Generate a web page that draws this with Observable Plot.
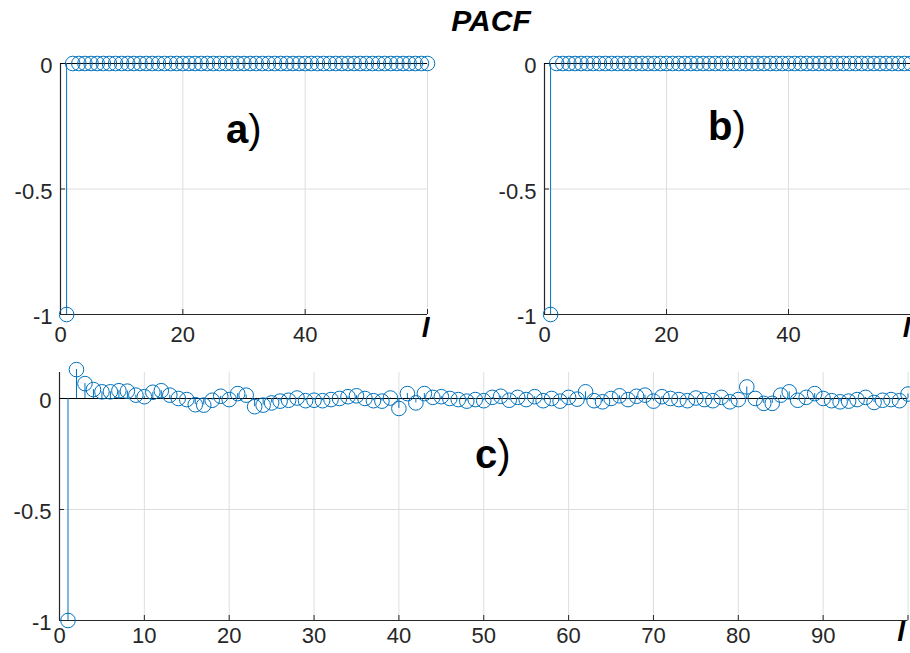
<!DOCTYPE html>
<html>
<head>
<meta charset="utf-8">
<script src="https://cdn.jsdelivr.net/npm/d3@7"></script>
<script src="https://cdn.jsdelivr.net/npm/@observablehq/plot@0.6"></script>
<style>
  html, body { margin: 0; padding: 0; background: #fff; overflow: hidden; }
  #root { position: relative; width: 910px; height: 653px; overflow: hidden; font-family: "Liberation Sans", Arial, sans-serif; }
  #title { position: absolute; left: 391px; width: 200px; top: 6px; text-align: center; font-size: 30px; line-height: 1; font-weight: bold; font-style: italic; color: #000; }
  .panel { position: absolute; }
</style>
</head>
<body>
<div id="root">
  <div id="title">PACF</div>
  <div class="panel" id="pa" style="left:0px; top:40px;"></div>
  <div class="panel" id="pb" style="left:484px; top:40px;"></div>
  <div class="panel" id="pc" style="left:0px; top:355px;"></div>
</div>
<script>
// ---------- data ----------
const lagsAB = d3.range(1, 61);
const pacfA = [-1, 0, 0, 0, 0, 0, 0, 0, 0, 0,
  0, 0, 0, 0, 0, 0, 0, 0, 0, 0,
  0, 0, 0, 0, 0, 0, 0, 0, 0, 0,
  0, 0, 0, 0, 0, 0, 0, 0, 0, 0,
  0, 0, 0, 0, 0, 0, 0, 0, 0, 0,
  0, 0, 0, 0, 0, 0, 0, 0, 0, 0];
const pacfB = [-1, 0, 0, 0, 0, 0, 0, 0, 0, 0,
  0, 0, 0, 0, 0, 0, 0, 0, 0, 0,
  0, 0, 0, 0, 0, 0, 0, 0, 0, 0,
  0, 0, 0, 0, 0, 0, 0, 0, 0, 0,
  0, 0, 0, 0, 0, 0, 0, 0, 0, 0,
  0, 0, 0, 0, 0, 0, 0, 0, 0, 0];
const lagsC = d3.range(1, 101);
const pacfC = [
  -1, 0.13, 0.067, 0.04, 0.03, 0.03, 0.035, 0.033, 0.015, 0.008,
  0.028, 0.035, 0.015, 0.0, -0.005, -0.028, -0.03, -0.008, 0.01, -0.005,
  0.022, 0.015, -0.037, -0.03, -0.02, -0.012, -0.008, 0.002, -0.01, -0.008,
  -0.01, -0.005, 0.0, 0.008, 0.012, 0.0, -0.01, -0.012, 0.002, -0.045,
  0.022, -0.02, 0.022, 0.005, 0.008, 0.0, -0.005, -0.012, -0.005, -0.01,
  0.005, 0.01, -0.008, 0.005, -0.005, 0.008, -0.01, 0.0, -0.012, 0.005,
  -0.003, 0.03, -0.01, -0.015, 0.0, 0.012, -0.005, 0.01, 0.015, -0.012,
  0.008, 0.0, -0.005, -0.01, 0.002, -0.005, -0.01, 0.005, -0.015, -0.005,
  0.052, 0.0, -0.022, -0.022, 0.015, 0.03, -0.008, 0.005, 0.022, 0.0,
  -0.01, -0.015, -0.012, -0.005, 0.005, -0.018, -0.008, -0.005, -0.01, 0.02];

const xTicksAB = [0, 20, 40, 60];
const xTickLabelsAB = ["0", "20", "40", ""];
const xTicksC = [0, 10, 20, 30, 40, 50, 60, 70, 80, 90, 100];
const xTickLabelsC = ["0", "10", "20", "30", "40", "50", "60", "70", "80", "90", ""];
const yTicks = [0, -0.5, -1];
const yTickLabels = ["0", "-0.5", "-1"];
const panelLetters = ["a", "b", "c"];
const axisName = "l";

// ---------- styling ----------
const BLUE = "#0072BD";
const AXIS = "#262626";
const GRID = "#dedede";
const FONT = "Liberation Sans, Arial, sans-serif";

function panel(opts) {
  const {lags, values, xDomain, yDomain, xTicks, xTickLabels, width, height,
         mt, mr, mb, ml, letter, letterX, letterY, xlabDy, xlabDx, tickLabDy} = opts;
  const pw = width - ml - mr, ph = height - mt - mb;
  const data = lags.map((l, i) => ({lag: l, value: values[i]}));
  return Plot.plot({
    width, height,
    marginTop: mt, marginRight: mr, marginBottom: mb, marginLeft: ml,
    style: {background: "transparent", overflow: "visible", fontFamily: FONT},
    x: {domain: xDomain, axis: null},
    y: {domain: yDomain, axis: null},
    marks: [
      // grid
      Plot.ruleX(xTicks, {x: d => d, stroke: GRID, strokeWidth: 1}),
      Plot.ruleY(yTicks, {y: d => d, stroke: GRID, strokeWidth: 1}),
      // axes lines
      Plot.ruleX([xDomain[0]], {x: d => d, stroke: AXIS, strokeWidth: 1.2}),
      Plot.ruleY([yDomain[0]], {y: d => d, stroke: AXIS, strokeWidth: 1.2}),
      // inward ticks
      Plot.ruleX(xTicks, {x: d => d, insetTop: ph - 5, stroke: AXIS}),
      Plot.ruleY(yTicks, {y: d => d, insetRight: pw - 5, stroke: AXIS}),
      // baseline
      Plot.ruleY([0], {y: d => d, stroke: "#000", strokeWidth: 1.2}),
      // stems
      Plot.ruleX(data, {x: "lag", y1: 0, y2: "value", stroke: BLUE, strokeWidth: 1}),
      Plot.dot(data, {x: "lag", y: "value", r: 7.3, stroke: BLUE, fill: "none", strokeWidth: 1}),
      // tick labels
      Plot.text(xTicks, {x: d => d, frameAnchor: "bottom", dy: tickLabDy, text: (d, i) => xTickLabels[i],
        fontSize: 22, fill: AXIS}),
      Plot.text(yTicks, {y: d => d, frameAnchor: "left", dx: -8, dy: 2.5, textAnchor: "end",
        text: (d, i) => yTickLabels[i], fontSize: 22, fill: AXIS}),
      // axis name
      Plot.text([axisName], {frameAnchor: "bottom-right", dx: xlabDx, dy: xlabDy, text: d => d,
        fontSize: 28, fontWeight: "bold", fontStyle: "italic", fill: "#000"}),
      // panel label
      Plot.text([letter], {x: () => letterX, y: () => letterY, text: d => d, textAnchor: "end",
        lineAnchor: "bottom", fontSize: 40, fontWeight: "bold", fill: "#000"}),
      Plot.text([")"], {x: () => letterX, y: () => letterY, text: d => d, textAnchor: "start",
        lineAnchor: "bottom", fontSize: 40, fontWeight: "normal", fill: "#000"})
    ]
  });
}

document.getElementById("pa").appendChild(panel({
  lags: lagsAB, values: pacfA, xDomain: [0, 60], yDomain: [-1, 0],
  xTicks: xTicksAB, xTickLabels: xTickLabelsAB,
  width: 460, height: 320, mt: 23, mr: 33, mb: 46, ml: 60,
  letter: panelLetters[0], letterX: 30.7, letterY: -0.315,
  xlabDx: 2, xlabDy: 22, tickLabDy: 27
}));

document.getElementById("pb").appendChild(panel({
  lags: lagsAB, values: pacfB, xDomain: [0, 60], yDomain: [-1, 0],
  xTicks: xTicksAB, xTickLabels: xTickLabelsAB,
  width: 426, height: 320, mt: 23, mr: 0, mb: 46, ml: 60,
  letter: panelLetters[1], letterX: 30.8, letterY: -0.305,
  xlabDx: 0, xlabDy: 22, tickLabDy: 27
}));

document.getElementById("pc").appendChild(panel({
  lags: lagsC, values: pacfC, xDomain: [0, 100], yDomain: [-1, 0.117],
  xTicks: xTicksC, xTickLabels: xTickLabelsC,
  width: 910, height: 298, mt: 17, mr: 2.5, mb: 33, ml: 59,
  letter: panelLetters[2], letterX: 51.6, letterY: -0.315,
  xlabDx: -3, xlabDy: 20, tickLabDy: 22
}));
</script>
</body>
</html>
